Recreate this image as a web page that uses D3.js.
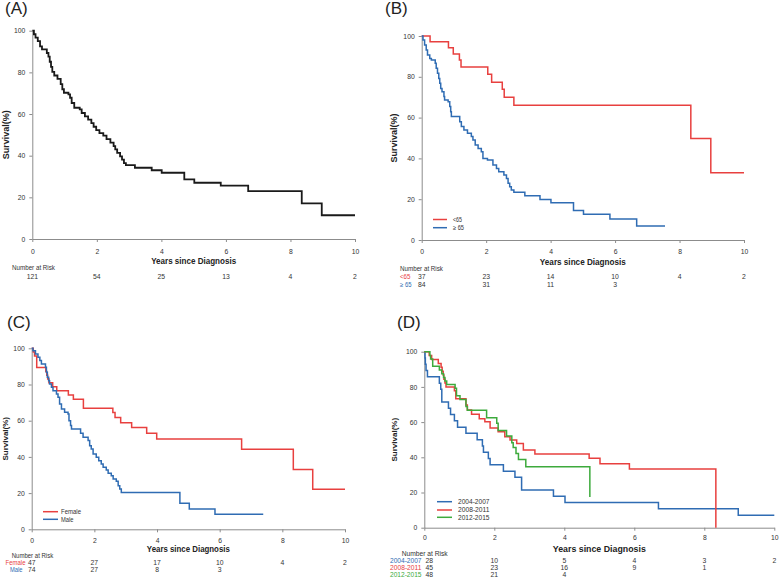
<!DOCTYPE html>
<html><head><meta charset="utf-8">
<script src="https://cdn.jsdelivr.net/npm/d3@7"></script>
<style>body{margin:0;background:#fff}svg{display:block}text{font-family:"Liberation Sans",Arial,sans-serif}</style>
</head><body><svg id="c" width="779" height="578"></svg>
<script>
// ---------- data ----------
const xTicks = [0, 2, 4, 6, 8, 10];
const yTicks = [0, 20, 40, 60, 80, 100];

// (A) overall
const A_time = [0.05,0.10,0.17,0.24,0.30,0.45,0.50,0.54,0.58,0.62,0.68,0.78,0.88,0.93,0.98,1.12,1.17,1.22,1.30,1.47,1.53,1.63,1.73,1.83,1.90,1.98,2.08,2.20,2.30,2.42,2.52,2.57,2.63,2.72,2.78,2.84,2.90,3.18,3.70,4.01,4.71,5.02,5.84,6.69,8.35,8.97];
const A_surv = [98.3,96.7,95.0,92.5,91.0,89.3,87.6,85.1,82.6,80.2,78.5,76.9,74.4,71.9,70.2,69.4,67.8,65.3,63.0,62.2,60.5,58.9,57.3,55.6,53.9,52.3,50.8,49.6,47.9,46.3,44.6,43.0,41.3,39.7,38.1,36.4,35.5,34.2,33.0,31.8,28.6,27.0,25.6,23.0,17.1,11.4];
const A_risk = [121, 54, 25, 13, 4, 2];

// (B) age
const B_lt65_time = [0.26,0.83,0.98,1.17,1.22,2.05,2.17,2.50,2.56,2.86,8.35,8.97];
const B_lt65_surv = [97.2,94.3,91.2,88.2,84.8,81.2,77.3,73.9,70.0,66.0,49.7,33.0];
const B_ge65_time = [0.04,0.09,0.14,0.18,0.25,0.30,0.42,0.45,0.49,0.53,0.56,0.59,0.63,0.69,0.71,0.82,0.87,0.90,0.92,1.18,1.23,1.31,1.42,1.54,1.59,1.66,1.75,1.85,1.90,2.04,2.21,2.32,2.39,2.55,2.63,2.68,2.73,2.78,2.86,3.20,3.67,4.01,4.71,5.02,5.84,6.67];
const B_ge65_surv = [98.0,95.6,93.1,90.7,89.0,88.2,86.6,84.2,81.7,79.2,76.8,74.3,72.7,70.3,68.6,67.8,65.4,62.9,60.5,58.0,55.6,53.9,52.3,50.7,49.0,46.6,44.9,43.3,40.0,39.2,36.8,35.1,33.5,31.9,30.2,27.8,26.1,24.5,23.4,21.7,19.9,18.3,14.4,12.6,10.3,6.9];
const B_lt65_risk = [37, 23, 14, 10, 4, 2];
const B_ge65_risk = [84, 31, 11, 3];

// (C) sex
const C_female_time = [0.05,0.09,0.16,0.45,0.48,0.51,0.55,0.67,0.80,1.17,1.33,1.65,2.59,2.66,2.84,3.19,3.67,3.99,6.70,8.35,8.97];
const C_female_surv = [97.9,95.7,89.4,87.2,85.1,83.0,80.9,78.7,76.6,74.2,71.8,66.9,64.5,61.7,58.9,56.2,53.0,49.9,44.2,33.1,22.1];
const C_male_time = [0.04,0.12,0.20,0.26,0.31,0.44,0.47,0.50,0.54,0.57,0.63,0.68,0.79,0.84,0.89,0.95,1.05,1.16,1.19,1.24,1.27,1.56,1.64,1.80,1.85,1.90,1.96,2.06,2.14,2.22,2.28,2.38,2.44,2.54,2.60,2.70,2.76,2.81,2.86,4.73,5.03,5.85];
const C_male_surv = [98.7,96.9,95.0,93.2,91.3,89.5,86.7,84.0,82.1,80.3,78.5,76.6,74.8,72.9,69.2,66.5,64.6,63.7,60.0,57.3,55.4,53.0,50.8,49.0,46.2,44.4,41.6,39.8,37.9,36.1,34.3,32.8,30.9,29.6,27.8,26.5,24.1,22.3,20.4,14.4,11.2,8.3];
const C_female_risk = [47, 27, 17, 10, 4, 2];
const C_male_risk = [74, 27, 8, 3];

// (D) period
const D_0407_time = [0.02,0.03,0.05,0.09,0.43,0.47,0.50,0.69,0.75,0.86,0.95,1.19,1.51,1.66,1.69,1.83,1.88,2.26,2.59,2.78,3.69,4.02,6.69,8.97];
const D_0407_surv = [96.4,92.9,89.3,85.7,82.1,78.6,71.4,67.9,64.3,60.7,57.1,53.6,50.0,46.4,42.9,39.3,35.7,32.1,28.6,21.4,17.9,14.3,10.7,7.1];
const D_0811_time = [0.14,0.21,0.40,0.48,0.51,0.54,0.56,0.59,0.62,0.86,0.90,1.19,1.23,1.35,1.57,1.73,1.88,2.11,2.30,2.45,2.64,2.83,3.16,4.71,5.02,5.86,8.33];
const D_0811_surv = [97.8,95.6,93.3,91.1,88.9,86.7,84.4,82.2,80.0,77.8,73.3,69.7,66.9,64.4,61.9,60.2,56.6,54.5,51.7,49.8,47.9,44.1,41.9,39.4,36.4,33.3,0];
const D_1215_time = [0.16,0.18,0.24,0.43,0.50,0.55,0.59,0.64,0.88,0.92,1.02,1.19,1.23,1.78,2.07,2.11,2.35,2.50,2.54,2.62,2.69,2.90,4.73];
const D_1215_surv = [97.9,95.8,91.7,89.6,87.5,85.4,83.3,81.3,79.2,75.0,72.9,68.8,66.7,62.5,59.4,55.2,52.1,48.3,45.6,42.2,38.8,34.7,17.4];
const D_0407_risk = [28, 10, 5, 4, 3, 2];
const D_0811_risk = [45, 23, 16, 9, 1];
const D_1215_risk = [48, 21, 4];

// ---------- drawing ----------
const RED = "#e8403f", BLUE = "#2f6cb3", GREEN = "#3daa3c", BLACK = "#1a1a1a";
const FONT = "Liberation Sans, Arial, sans-serif";
const svg = d3.select("#c");

const panels = [
  {label:"(A)", lx:5, ly:14, x0:32.3, x1:355, yTop:30.7, yBot:239, xPad:7.6, titleY:264, titleW:85, ylabX:5.5, ylabS:9,
   narX:12, narY:268, narW:43, rows:[277], firstOff:0, lw:1.8,
   series:[{time:A_time, surv:A_surv, end:10, color:BLACK}],
   risk:[{name:"", color:BLACK, vals:A_risk}], legend:null},
  {label:"(B)", lx:385, ly:14, x0:421.7, x1:744, yTop:36, yBot:240, xPad:6.6, titleY:265, titleW:86, ylabX:393.5, ylabS:9,
   narX:400, narY:268.3, narW:43, rows:[276.7,284.3], firstOff:0, lw:1.5,
   series:[{time:B_lt65_time, surv:B_lt65_surv, end:10, color:RED},{time:B_ge65_time, surv:B_ge65_surv, end:7.55, color:BLUE}],
   risk:[{name:"<65", color:RED, vals:B_lt65_risk, lx:400, w:10.5},{name:"\u2265 65", color:BLUE, vals:B_ge65_risk, lx:400, w:11.5}],
   legend:{x:433, x2:447, tx:453, ys:[219.5,227.7], items:["<65","\u2265 65"], colors:[RED,BLUE], ws:[9,11]}},
  {label:"(C)", lx:7, ly:328, x0:31.7, x1:345, yTop:348.3, yBot:529.3, xPad:5.6, titleY:552, titleW:83, ylabX:5, ylabS:8,
   narX:11.7, narY:555.7, narW:41.5, rows:[562.7,570], firstOff:0, lw:1.5,
   series:[{time:C_female_time, surv:C_female_surv, end:10, color:RED},{time:C_male_time, surv:C_male_surv, end:7.39, color:BLUE}],
   risk:[{name:"Female", color:RED, vals:C_female_risk, lx:5.5, w:20},{name:"Male", color:BLUE, vals:C_male_risk, lx:10, w:12.5}],
   legend:{x:43, x2:58, tx:61, ys:[511.7,519.3], items:["Female","Male"], colors:[RED,BLUE], ws:[20,12.5]}},
  {label:"(D)", lx:397, ly:328, x0:424.3, x1:774.3, yTop:351.7, yBot:527.7, xPad:4.9, titleY:551.5, titleW:93, ylabX:394, ylabS:8,
   narX:401.7, narY:553.3, narW:46, rows:[560.7,567.7,575], firstOff:5, lw:1.5,
   series:[{time:D_0407_time, surv:D_0407_surv, end:10, color:BLUE},{time:D_0811_time, surv:D_0811_surv, end:8.33, color:RED},{time:D_1215_time, surv:D_1215_surv, end:4.73, color:GREEN}],
   risk:[{name:"2004-2007", color:BLUE, vals:D_0407_risk, lx:390, w:31.5},{name:"2008-2011", color:RED, vals:D_0811_risk, lx:390, w:31.5},{name:"2012-2015", color:GREEN, vals:D_1215_risk, lx:390, w:31.5}],
   legend:{x:437, x2:452, tx:458, ys:[501.7,510,517.3], items:["2004-2007","2008-2011","2012-2015"], colors:[BLUE,RED,GREEN], ws:[31.5,31.5,31.5]}}
];

function smallText(g, x, y, txt, color, w, anchor) {
  const t = g.append("text").attr("x",x).attr("y",y).attr("dy","0.35em")
    .attr("font-size",6.8).attr("fill",color).text(txt);
  if (anchor) t.attr("text-anchor",anchor);
  if (w) t.attr("textLength",w).attr("lengthAdjust","spacingAndGlyphs");
  return t;
}

panels.forEach(p => {
  const g = svg.append("g");
  const x = d3.scaleLinear().domain([0,10]).range([p.x0,p.x1]);
  const y = d3.scaleLinear().domain([0,100]).range([p.yBot,p.yTop]);

  const ax = g.append("g").attr("transform",`translate(0,${p.yBot})`)
    .call(d3.axisBottom(x).tickValues(xTicks).tickSize(3).tickSizeOuter(0).tickPadding(p.xPad));
  const ay = g.append("g").attr("transform",`translate(${p.x0},0)`)
    .call(d3.axisLeft(y).tickValues(yTicks).tickSize(3).tickSizeOuter(0).tickPadding(4));
  [ax,ay].forEach(a => {
    a.attr("font-size",6.8).attr("font-family",FONT);
    a.select(".domain").attr("stroke","#8c8c8c").attr("stroke-width",1);
    a.selectAll(".tick line").attr("stroke","#8c8c8c");
    a.selectAll(".tick text").attr("fill","#333");
  });

  // curves
  const line = d3.line().x(d=>x(d[0])).y(d=>y(d[1])).curve(d3.curveStepAfter);
  p.series.forEach(s => {
    const pts = [[0,100]].concat(s.time.map((t,i)=>[t,s.surv[i]]));
    pts.push([s.end, s.surv[s.surv.length-1]]);
    g.append("path").attr("d", line(pts)).attr("fill","none")
      .attr("stroke", s.color).attr("stroke-width", p.lw).attr("stroke-linejoin","miter");
  });

  // panel label
  g.append("text").attr("x",p.lx).attr("y",p.ly).text(p.label)
    .attr("font-family","Lato, 'Open Sans', sans-serif").attr("font-size",17).attr("fill","#222");

  // axis titles
  g.append("text").attr("x",(p.x0+p.x1)/2).attr("y",p.titleY).attr("text-anchor","middle")
    .attr("font-size",9.5).attr("font-weight","bold").attr("fill","#222")
    .attr("textLength",p.titleW).attr("lengthAdjust","spacingAndGlyphs").text("Years since Diagnosis");
  g.append("text").attr("transform",`translate(${p.ylabX},${(p.yTop+p.yBot)/2}) rotate(-90)`)
    .attr("text-anchor","middle").attr("dominant-baseline","central")
    .attr("font-size",p.ylabS).attr("font-weight","bold").attr("fill","#222").text("Survival(%)");

  // number at risk
  smallText(g, p.narX, p.narY, "Number at Risk", "#333", p.narW);
  p.risk.forEach((r,ri) => {
    const ry = p.rows[ri];
    if (r.name) smallText(g, r.lx, ry, r.name, r.color, r.w);
    r.vals.forEach((v,i) => {
      smallText(g, x(xTicks[i]) + (i===0 ? p.firstOff : 0), ry, v, "#333", null, "middle");
    });
  });

  // legend
  if (p.legend) {
    const L = p.legend;
    L.items.forEach((it,i) => {
      g.append("line").attr("x1",L.x).attr("x2",L.x2).attr("y1",L.ys[i]).attr("y2",L.ys[i])
        .attr("stroke",L.colors[i]).attr("stroke-width",1.5);
      smallText(g, L.tx, L.ys[i], it, "#333", L.ws[i]);
    });
  }
});
</script></body></html>
